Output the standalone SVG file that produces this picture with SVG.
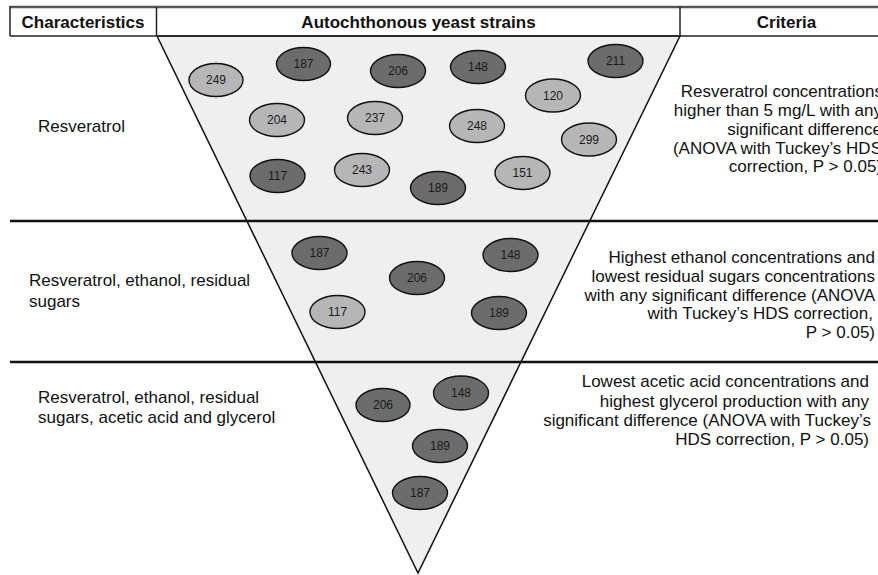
<svg xmlns="http://www.w3.org/2000/svg" width="878" height="575" viewBox="0 0 878 575">
<style>
text{font-family:"Liberation Sans",Arial,sans-serif;fill:#111}
.h{font-size:17px;font-weight:bold;text-anchor:middle}
.t{font-size:17px}
.r{font-size:17px;text-anchor:end}
.n{font-size:12px;text-anchor:middle;fill:#1a1a1a}
.d{fill:#6c6c6c;stroke:#111;stroke-width:1.4}
.l{fill:#b6b6b6;stroke:#111;stroke-width:1.4}
.rule{stroke:#111;stroke-width:2.5}
</style>
<rect width="878" height="575" fill="#fff"/>
<g id="funnel">
<polygon points="157,36 680,36 418,573" fill="#efefef" stroke="#111" stroke-width="1.5"/>
</g>
<g id="table">
<line x1="10" y1="7" x2="878" y2="7" stroke="#555" stroke-width="2.5"/>
<line x1="10" y1="36" x2="878" y2="36" stroke="#222" stroke-width="1.5"/>
<line x1="10" y1="6" x2="10" y2="36" stroke="#222" stroke-width="1.5"/>
<line x1="156.5" y1="7" x2="156.5" y2="36" stroke="#222" stroke-width="1.5"/>
<line x1="680" y1="7" x2="680" y2="36" stroke="#222" stroke-width="1.5"/>
<line class="rule" x1="10" y1="221" x2="878" y2="221"/>
<line class="rule" x1="10" y1="362" x2="878" y2="362"/>
<text class="h" x="83" y="27.5">Characteristics</text>
<text class="h" x="418.5" y="27.5">Autochthonous yeast strains</text>
<text class="h" x="786.5" y="27.5">Criteria</text>
</g>
<g id="row1">
<text class="t" x="38" y="132">Resveratrol</text>
<text class="r" x="883" y="96.5">Resveratrol concentrations</text>
<text class="r" x="882" y="116">higher than 5 mg/L with any</text>
<text class="r" x="882" y="135">significant difference</text>
<text class="r" x="882" y="153.5">(ANOVA with Tuckey’s HDS</text>
<text class="r" x="882" y="172">correction, P &gt; 0.05)</text>
<g id="r1-249"><ellipse class="l" cx="216" cy="80" rx="27" ry="16.5"/><text class="n" x="216" y="84">249</text></g>
<g id="r1-187"><ellipse class="d" cx="303.5" cy="64" rx="27" ry="16.5"/><text class="n" x="303.5" y="68">187</text></g>
<g id="r1-206"><ellipse class="d" cx="398" cy="71" rx="27.5" ry="16.5"/><text class="n" x="398" y="75">206</text></g>
<g id="r1-148"><ellipse class="d" cx="478" cy="67" rx="27.5" ry="16.5"/><text class="n" x="478" y="71">148</text></g>
<g id="r1-211"><ellipse class="d" cx="615.5" cy="61" rx="27.5" ry="16.5"/><text class="n" x="615.5" y="65">211</text></g>
<g id="r1-120"><ellipse class="l" cx="553" cy="95.5" rx="27.5" ry="16.5"/><text class="n" x="553" y="99.5">120</text></g>
<g id="r1-204"><ellipse class="l" cx="277" cy="120" rx="27.5" ry="16.5"/><text class="n" x="277" y="124">204</text></g>
<g id="r1-237"><ellipse class="l" cx="375" cy="118" rx="27.5" ry="16.5"/><text class="n" x="375" y="122">237</text></g>
<g id="r1-248"><ellipse class="l" cx="477" cy="126" rx="27.5" ry="16.5"/><text class="n" x="477" y="130">248</text></g>
<g id="r1-299"><ellipse class="l" cx="589" cy="139.5" rx="27.5" ry="16.5"/><text class="n" x="589" y="143.5">299</text></g>
<g id="r1-117"><ellipse class="d" cx="277.5" cy="176" rx="27.5" ry="16.5"/><text class="n" x="277.5" y="180">117</text></g>
<g id="r1-243"><ellipse class="l" cx="362" cy="170" rx="27.5" ry="16.5"/><text class="n" x="362" y="174">243</text></g>
<g id="r1-189"><ellipse class="d" cx="438" cy="188" rx="27.5" ry="16.5"/><text class="n" x="438" y="192">189</text></g>
<g id="r1-151"><ellipse class="l" cx="522.5" cy="173" rx="27.5" ry="16.5"/><text class="n" x="522.5" y="177">151</text></g>
</g>
<g id="row2">
<text class="t" x="29" y="286">Resveratrol, ethanol, residual</text>
<text class="t" x="29" y="307">sugars</text>
<text class="r" x="875" y="263">Highest ethanol concentrations and</text>
<text class="r" x="875" y="282">lowest residual sugars concentrations</text>
<text class="r" x="875" y="301">with any significant difference (ANOVA</text>
<text class="r" x="873" y="319">with Tuckey’s  HDS correction,</text>
<text class="r" x="875" y="338">P &gt; 0.05)</text>
<g id="r2-187"><ellipse class="d" cx="319.5" cy="253" rx="27.5" ry="16.5"/><text class="n" x="319.5" y="257">187</text></g>
<g id="r2-206"><ellipse class="d" cx="417" cy="278" rx="27.5" ry="16.5"/><text class="n" x="417" y="282">206</text></g>
<g id="r2-148"><ellipse class="d" cx="510.5" cy="255" rx="27.5" ry="16.5"/><text class="n" x="510.5" y="259">148</text></g>
<g id="r2-117"><ellipse class="l" cx="337.5" cy="312" rx="27.5" ry="16.5"/><text class="n" x="337.5" y="316">117</text></g>
<g id="r2-189"><ellipse class="d" cx="499" cy="313" rx="27.5" ry="16.5"/><text class="n" x="499" y="317">189</text></g>
</g>
<g id="row3">
<text class="t" x="38" y="403">Resveratrol, ethanol, residual</text>
<text class="t" x="38" y="423">sugars, acetic acid and glycerol</text>
<text class="r" x="869" y="387">Lowest acetic acid concentrations and</text>
<text class="r" x="869" y="407">highest glycerol production with any</text>
<text class="r" x="871" y="426">significant difference (ANOVA with Tuckey’s</text>
<text class="r" x="869" y="445">HDS correction, P &gt; 0.05)</text>
<g id="r3-206"><ellipse class="d" cx="383" cy="405" rx="27" ry="16.5"/><text class="n" x="383" y="409">206</text></g>
<g id="r3-148"><ellipse class="d" cx="461" cy="393" rx="27.5" ry="17"/><text class="n" x="461" y="397">148</text></g>
<g id="r3-189"><ellipse class="d" cx="440" cy="446" rx="27.5" ry="16.5"/><text class="n" x="440" y="450">189</text></g>
<g id="r3-187"><ellipse class="d" cx="420" cy="493" rx="27.5" ry="16.5"/><text class="n" x="420" y="497">187</text></g>
</g>
</svg>
